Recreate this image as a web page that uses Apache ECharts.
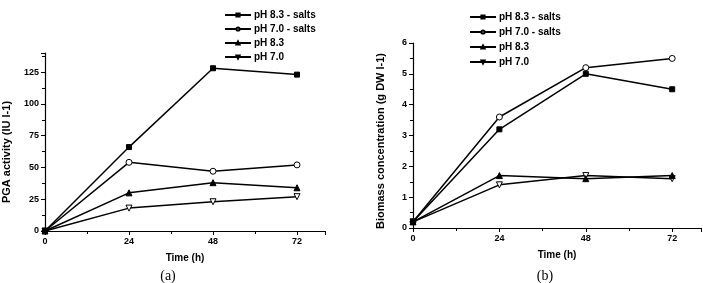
<!DOCTYPE html>
<html>
<head>
<meta charset="utf-8">
<script src="https://cdn.jsdelivr.net/npm/echarts@6/dist/echarts.min.js"></script>
<style>
html,body{margin:0;padding:0;background:#fff;}
#chart{width:703px;height:283px;}
</style>
</head>
<body>
<div id="chart"></div>
<script>
// data
var hours = [0, 24, 48, 72];
var names = ['pH 8.3 - salts', 'pH 7.0 - salts', 'pH 8.3', 'pH 7.0'];
// (a) PGA activity
var pga83salts = [0, 66, 128, 123];
var pga70salts = [0, 54, 47, 52];
var pga83 = [0, 30, 38, 34];
var pga70 = [0, 18, 23, 27];
// (b) biomass
var bio83salts = [0.2, 3.2, 5.0, 4.5];
var bio70salts = [0.2, 3.6, 5.2, 5.5];
var bio83 = [0.2, 1.7, 1.6, 1.7];
var bio70 = [0.2, 1.4, 1.7, 1.6];

var font = 'Liberation Sans, Arial, sans-serif';
var marks = [
    {symbol: 'rect', fill: '#000', rot: 0, size: 5},
    {symbol: 'circle', fill: '#fff', rot: 0, size: 6},
    {symbol: 'triangle', fill: '#000', rot: 0, size: 6},
    {symbol: 'triangle', fill: '#fff', rot: 180, size: 6}
];

function pairs(vals){
    return hours.map(function(h, i){ return [h, vals[i]]; });
}
function mkSeries(i, vals, gi){
    var m = marks[i];
    return {
        name: names[i], type: 'line',
        xAxisIndex: gi, yAxisIndex: gi,
        data: pairs(vals),
        symbol: m.symbol, symbolSize: m.size, symbolRotate: m.rot,
        showAllSymbol: true,
        lineStyle: {color: '#000', width: 1.5},
        itemStyle: {color: m.fill, borderColor: '#000', borderWidth: 1},
        animation: false, z: 10 - i
    };
}
function xAx(gi){
    return {
        type: 'value', gridIndex: gi, min: 0, max: 80, interval: 24,
        axisLine: {lineStyle: {color: '#000', width: 1.2}},
        axisTick: {length: 4, lineStyle: {color: '#000'}},
        minorTick: {show: true, splitNumber: 2, length: 3, lineStyle: {color: '#000'}},
        splitLine: {show: false},
        axisLabel: {showMaxLabel: false, color: '#000', fontFamily: font, fontWeight: 'bold', fontSize: 9, margin: 6},
        name: 'Time (h)', nameLocation: 'middle', nameGap: 22,
        nameTextStyle: {color: '#000', fontFamily: font, fontWeight: 'bold', fontSize: 10}
    };
}
function yAx(gi, max, step){
    return {
        type: 'value', gridIndex: gi, min: 0, max: max, interval: step,
        axisLine: {show: true, lineStyle: {color: '#000', width: 1.2}},
        axisTick: {show: true, length: 4, lineStyle: {color: '#000'}},
        minorTick: {show: true, splitNumber: 2, length: 3, lineStyle: {color: '#000'}},
        splitLine: {show: false},
        axisLabel: {showMaxLabel: max % step === 0, color: '#000', fontFamily: font, fontWeight: 'bold', fontSize: 9, margin: 6}
    };
}
function legend(left, top, gap){
    return {
        orient: 'vertical', left: left, top: top, itemGap: gap,
        itemWidth: 26, itemHeight: 4,
        data: names,
        textStyle: {color: '#000', fontFamily: font, fontWeight: 'bold', fontSize: 10, padding: [0, 0, 0, -2]}
    };
}

var chart = echarts.init(document.getElementById('chart'));
chart.setOption({
    backgroundColor: '#fff',
    animation: false,
    grid: [
        {left: 45, top: 53, width: 280, height: 178},
        {left: 413, top: 43, width: 288, height: 185}
    ],
    xAxis: [xAx(0), xAx(1)],
    yAxis: [yAx(0, 140, 25), yAx(1, 6, 1)],
    legend: [legend(219, 5, 4), legend(464, 7, 5)],
    series: [
        mkSeries(0, pga83salts, 0), mkSeries(1, pga70salts, 0),
        mkSeries(2, pga83, 0), mkSeries(3, pga70, 0),
        mkSeries(0, bio83salts, 1), mkSeries(1, bio70salts, 1),
        mkSeries(2, bio83, 1), mkSeries(3, bio70, 1)
    ],
    graphic: [
        {type: 'text', x: 7, y: 152, rotation: Math.PI / 2, style: {
            text: 'PGA activity (IU l-1)', fill: '#000', font: 'bold 11px ' + font,
            textAlign: 'center', textVerticalAlign: 'middle'}},
        {type: 'text', x: 381, y: 141, rotation: Math.PI / 2, style: {
            text: 'Biomass concentration (g DW l-1)', fill: '#000', font: 'bold 11px ' + font,
            textAlign: 'center', textVerticalAlign: 'middle'}},
        {type: 'text', x: 168, y: 276, style: {
            text: '(a)', fill: '#000', font: '14px Liberation Serif, Times New Roman, serif',
            textAlign: 'center', textVerticalAlign: 'middle'}},
        {type: 'text', x: 545, y: 276, style: {
            text: '(b)', fill: '#000', font: '14px Liberation Serif, Times New Roman, serif',
            textAlign: 'center', textVerticalAlign: 'middle'}}
    ]
});
</script>
</body>
</html>
